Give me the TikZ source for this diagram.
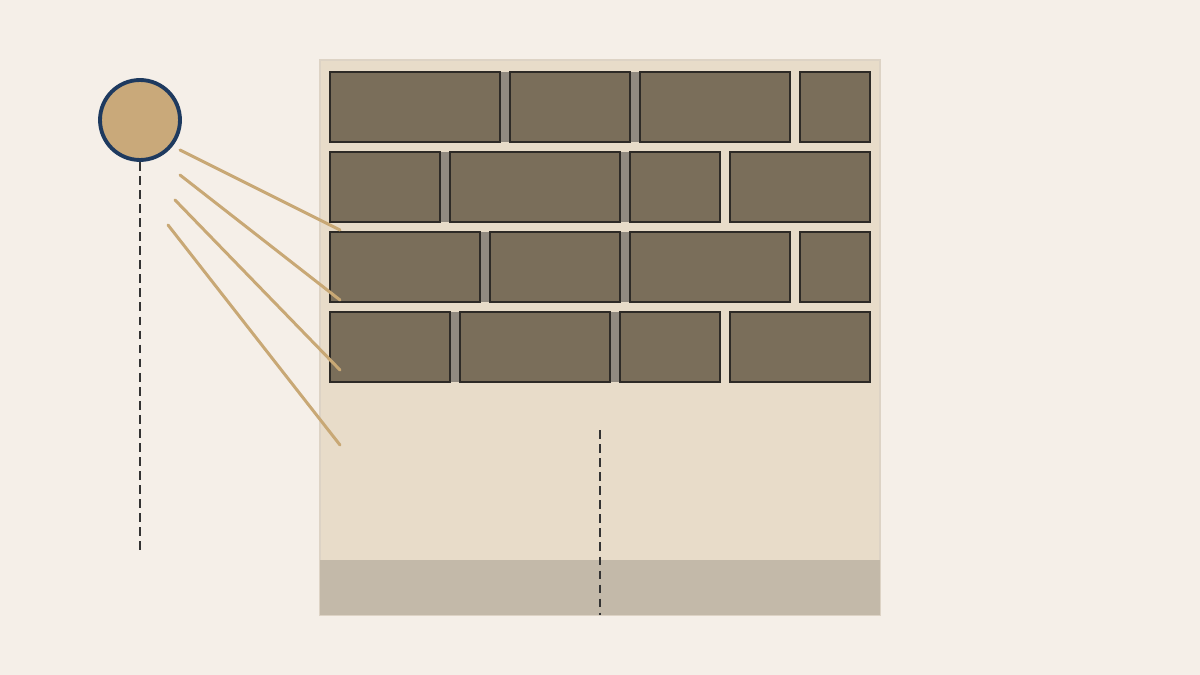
\documentclass[tikz,border=0pt]{standalone}
\usetikzlibrary{positioning}
\definecolor{bgcream}{HTML}{F5EFE8}
\definecolor{wallfill}{HTML}{E8DCC9}
\definecolor{wallline}{HTML}{DDD3C5}
\definecolor{basefill}{HTML}{C3B9A9}
\definecolor{brickfill}{HTML}{7A6E5A}
\definecolor{brickline}{HTML}{2D2A26}
\definecolor{jointfill}{HTML}{918A80}
\definecolor{sunfill}{HTML}{C9A97A}
\definecolor{sunline}{HTML}{1E3A5F}
\definecolor{raycol}{HTML}{C8A875}
\definecolor{guidecol}{HTML}{333333}

\begin{document}
\begin{tikzpicture}[x=0.02cm,y=-0.02cm,
  brick/.style={fill=brickfill,draw=brickline,line width=1.2pt},
  joint/.style={fill=jointfill},
  ray/.style={draw=raycol,line width=1.7pt,line cap=round},
  guide/.style={draw=guidecol,line width=1.2pt,dash pattern=on 5pt off 3pt}]

% page and background
\useasboundingbox (0,0) rectangle (1200,675);
\fill[bgcream] (0,0) rectangle (1200,675);

% wall panel with its base strip
\filldraw[fill=wallfill,draw=wallline,line width=1.1pt] (320,60) rectangle (880,615);
\fill[basefill] (320,560) rectangle (880,615);

% grey joints behind the bricks
\foreach \y/\a/\b in {72/500/630, 152/440/620, 232/480/620, 312/450/610}{
  \fill[joint] (\a,\y) rectangle ++(10,70);
  \fill[joint] (\b,\y) rectangle ++(10,70);
}

% brick rows: top of row / list of left:right edges
\foreach \y/\bricks in {72/{330/500,510/630,640/790,800/870},
                        152/{330/440,450/620,630/720,730/870},
                        232/{330/480,490/620,630/790,800/870},
                        312/{330/450,460/610,620/720,730/870}}{
  \foreach \l/\r in \bricks
    \draw[brick] (\l,\y) rectangle (\r,\y+70);
}

% sun
\node[circle,fill=sunfill,draw=sunline,line width=2.2pt,inner sep=0pt,
      minimum size=1.6cm] (sun) at (140,120) {};

% vertical guides
\coordinate (sunfoot) at (140,552);
\coordinate (axtop) at (600,430);
\coordinate (axbot) at (600,615);
\draw[guide] (sun.south) -- (sunfoot);
\draw[guide] (axtop) -- (axbot);

% rays from the sun onto the wall
\foreach \i/\sx/\sy/\ex/\ey in {1/180/150/340/230, 2/180/175/340/300,
                                3/175/200/340/370, 4/168/225/340/445}{
  \coordinate (ray\i s) at (\sx,\sy);
  \coordinate (ray\i e) at (\ex,\ey);
  \draw[ray] (ray\i s) -- (ray\i e);
}

\end{tikzpicture}
\end{document}
